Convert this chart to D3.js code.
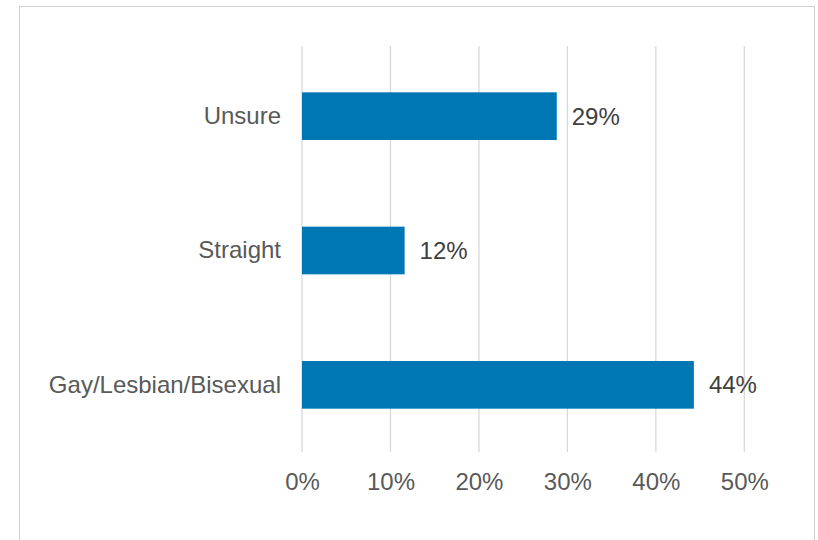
<!DOCTYPE html>
<html>
<head>
<meta charset="utf-8">
<script src="https://cdn.jsdelivr.net/npm/d3@7"></script>
<style>
  body { margin: 0; background: #fff; }
  svg { display: block; font-family: "Liberation Sans", Arial, sans-serif; }
</style>
</head>
<body>
<div id="chart"></div>
<script>
// chart size
const width = 818;
const height = 540;
const margin = {left: 302, right: 74, top: 49, bottom: 88};

// data
const categories = ["Unsure", "Straight", "Gay/Lesbian/Bisexual"];
const values = [28.8, 11.6, 44.3];
const valueLabels = ["29%", "12%", "44%"];
const xTicks = [0, 10, 20, 30, 40, 50];

const svg = d3.select("#chart")
  .append("svg")
  .attr("width", width)
  .attr("height", height);

// outer chart border
svg.append("rect")
  .attr("x", 19.5)
  .attr("y", 6.5)
  .attr("width", 795)
  .attr("height", 560)
  .attr("fill", "none")
  .attr("stroke", "#d0d0d0")
  .attr("stroke-width", 1);

const xScale = d3.scaleLinear()
  .domain([0, 50])
  .range([margin.left, 744.3]);

const yScale = d3.scaleBand()
  .domain(categories)
  .range([margin.top, height - margin.bottom])
  .paddingInner(0.645)
  .paddingOuter(0.3225);

// gridlines
svg.selectAll(".grid")
  .data(xTicks)
  .enter()
  .append("line")
    .attr("class", "grid")
    .attr("x1", d => xScale(d))
    .attr("x2", d => xScale(d))
    .attr("y1", 46)
    .attr("y2", 452)
    .attr("stroke", "#d9d9d9")
    .attr("stroke-width", 1.3);

// x axis labels (no axis line)
const xAxis = svg.append("g")
  .attr("transform", `translate(0, 452)`)
  .call(d3.axisBottom(xScale).tickValues(xTicks).tickFormat(d => d + "%").tickSize(0).tickPadding(21));
xAxis.select(".domain").remove();
xAxis.selectAll("text")
  .attr("font-size", "24px")
  .attr("font-family", "Liberation Sans, Arial, sans-serif")
  .attr("fill", "#595959");

// y axis labels
const yAxis = svg.append("g")
  .attr("transform", `translate(${margin.left}, 0)`)
  .call(d3.axisLeft(yScale).tickSize(0).tickPadding(21));
yAxis.select(".domain").remove();
yAxis.selectAll("text")
  .attr("font-size", "24px")
  .attr("font-family", "Liberation Sans, Arial, sans-serif")
  .attr("fill", "#595959");

// bars
svg.selectAll(".bar")
  .data(categories)
  .enter()
  .append("rect")
    .attr("class", "bar")
    .attr("x", xScale(0))
    .attr("y", d => yScale(d))
    .attr("width", (d, i) => xScale(values[i]) - xScale(0))
    .attr("height", yScale.bandwidth())
    .attr("fill", "#0077b5");

// value labels
svg.selectAll(".label")
  .data(categories)
  .enter()
  .append("text")
    .attr("class", "label")
    .attr("x", (d, i) => xScale(values[i]) + 15)
    .attr("y", d => yScale(d) + yScale.bandwidth() / 2)
    .attr("dy", "0.35em")
    .attr("font-size", "24px")
    .attr("fill", "#404040")
    .text((d, i) => valueLabels[i]);
</script>
</body>
</html>
